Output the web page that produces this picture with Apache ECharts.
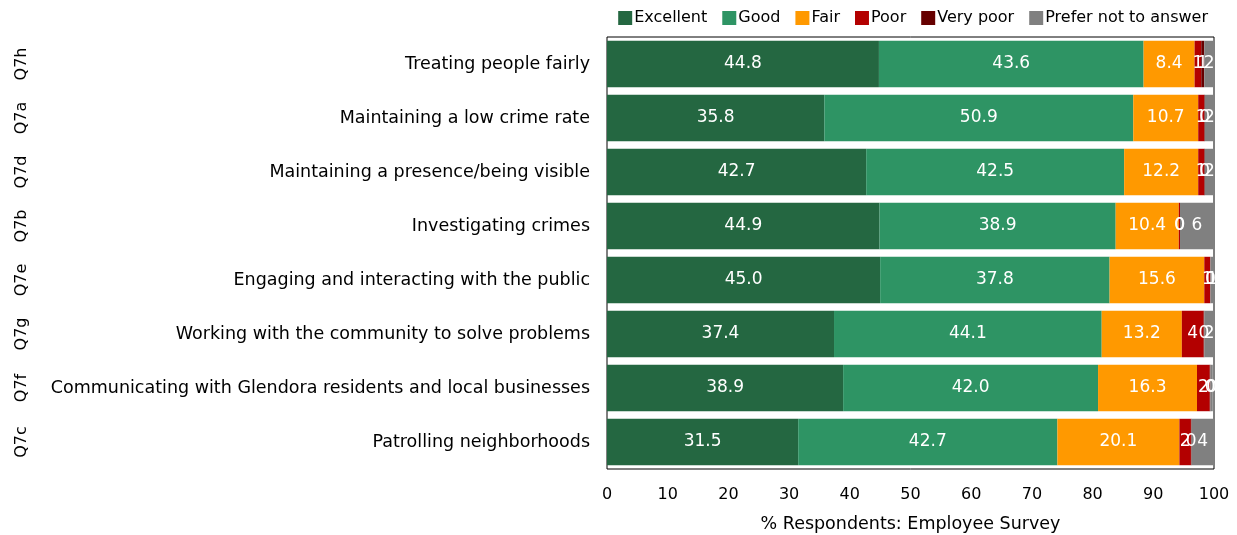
<!DOCTYPE html>
<html>
<head>
<meta charset="utf-8">
<script src="https://cdn.jsdelivr.net/npm/echarts@6/dist/echarts.min.js"></script>
<style>
  html, body { margin: 0; padding: 0; background: #fff; }
  #chart { width: 1237px; height: 535px; }
</style>
</head>
<body>
<div id="chart"></div>
<script>
// Police service ratings, employee survey (percent of respondents)
const categories = [
  'Treating people fairly',
  'Maintaining a low crime rate',
  'Maintaining a presence/being visible',
  'Investigating crimes',
  'Engaging and interacting with the public',
  'Working with the community to solve problems',
  'Communicating with Glendora residents and local businesses',
  'Patrolling neighborhoods'
];
const questionCodes = ['Q7h', 'Q7a', 'Q7d', 'Q7b', 'Q7e', 'Q7g', 'Q7f', 'Q7c'];

const excellent = [44.8, 35.8, 42.7, 44.9, 45.0, 37.4, 38.9, 31.5];
const good      = [43.6, 50.9, 42.5, 38.9, 37.8, 44.1, 42.0, 42.7];
const fair      = [8.4, 10.7, 12.2, 10.4, 15.6, 13.2, 16.3, 20.1];
const poor      = [1.1, 1.0, 1.0, 0.2, 1.0, 3.6, 2.1, 1.9];
const veryPoor  = [0.5, 0.1, 0.1, 0.0, 0.0, 0.1, 0.1, 0.1];
const preferNot = [1.6, 1.5, 1.5, 5.6, 0.6, 1.6, 0.4, 3.7];

const xTicks = { min: 0, max: 100, interval: 10 };

const seriesDefs = [
  { name: 'Excellent', data: excellent, color: '#246741' },
  { name: 'Good', data: good, color: '#2e9464' },
  { name: 'Fair', data: fair, color: '#ff9900' },
  { name: 'Poor', data: poor, color: '#b30000' },
  { name: 'Very poor', data: veryPoor, color: '#660000' },
  { name: 'Prefer not to answer', data: preferNot, color: '#808080' }
];

const FONT = 'DejaVu Sans';

const chart = echarts.init(document.getElementById('chart'), null, { renderer: 'canvas' });

chart.setOption({
  animation: false,
  textStyle: { fontFamily: FONT },
  legend: {
    top: 5,
    right: 24,
    itemWidth: 14,
    itemHeight: 14,
    itemGap: 15,
    icon: 'rect',
    textStyle: { fontFamily: FONT, fontSize: 16, color: '#000', padding: [0, 0, 0, -3] },
    data: seriesDefs.map(s => s.name)
  },
  grid: {
    left: 607, right: 23, top: 37, bottom: 66,
    outerBoundsMode: 'none',
    containLabel: false,
    show: true, borderColor: '#000', borderWidth: 1, backgroundColor: 'transparent'
  },
  xAxis: {
    type: 'value',
    min: xTicks.min, max: xTicks.max, interval: xTicks.interval,
    splitLine: { show: false },
    axisLine: { show: false },
    axisTick: { show: false },
    axisLabel: { fontFamily: FONT, fontSize: 16, color: '#000', margin: 18 },
    name: '% Respondents: Employee Survey',
    nameLocation: 'middle',
    nameGap: 46,
    nameTextStyle: { fontFamily: FONT, fontSize: 17.5, color: '#000' }
  },
  yAxis: [
    {
      type: 'category',
      inverse: true,
      data: categories,
      axisLine: { show: false },
      axisTick: { show: false },
      axisLabel: { fontFamily: FONT, fontSize: 17.5, color: '#000', margin: 17 }
    },
    {
      type: 'category',
      inverse: true,
      position: 'left',
      offset: 577,
      data: questionCodes,
      axisLine: { show: false },
      axisTick: { show: false },
      axisLabel: { fontFamily: FONT, fontSize: 16, color: '#000', rotate: 90, margin: 0 }
    }
  ],
  series: seriesDefs.map(s => ({
    name: s.name,
    type: 'bar',
    stack: 'total',
    yAxisIndex: 0,
    barCategoryGap: '14%',
    data: s.data,
    itemStyle: { color: s.color },
    label: {
      show: true,
      position: 'inside',
      color: '#fff',
      fontFamily: FONT,
      fontSize: 17,
      formatter: p => (p.value >= 7 ? p.value.toFixed(1) : String(Math.round(p.value)))
    }
  }))
});
</script>
</body>
</html>
